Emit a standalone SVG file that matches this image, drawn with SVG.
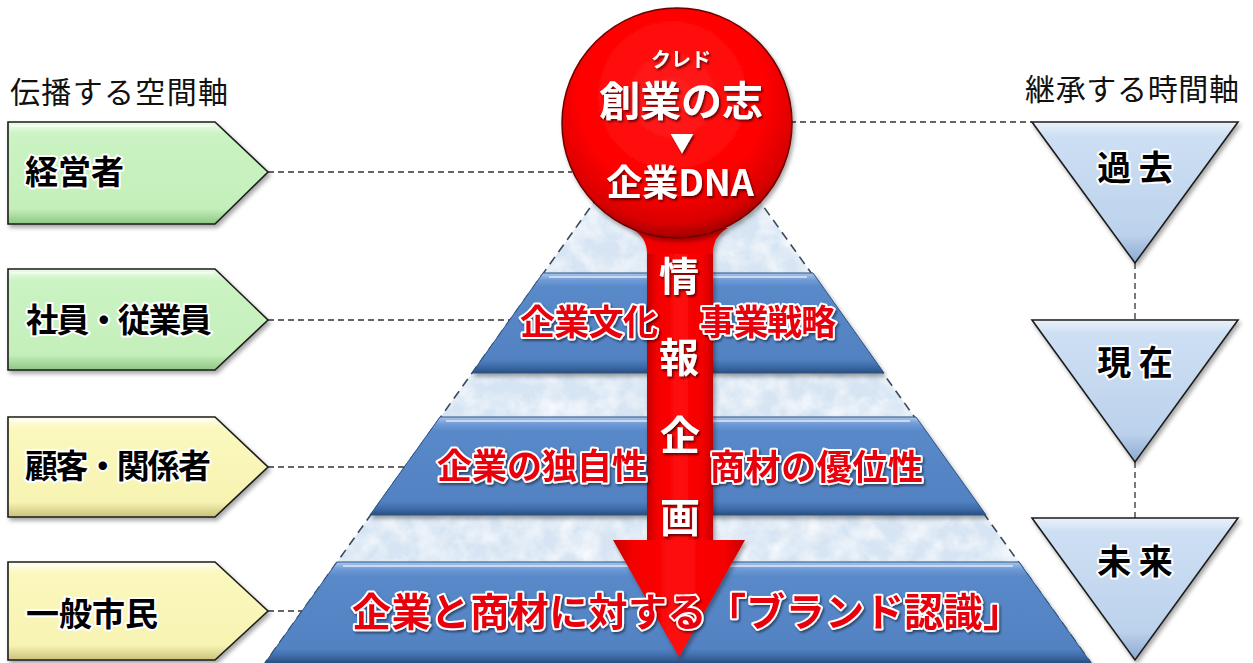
<svg xmlns="http://www.w3.org/2000/svg" width="1253" height="663" viewBox="0 0 1253 663">
<style>
.f{font-family:"Noto Sans CJK JP","Noto Sans",sans-serif;}
.t{font-size:30px;fill:#111;}
.node{font-weight:700;font-size:33px;fill:#000;stroke:#fff;stroke-width:4;paint-order:stroke;stroke-linejoin:round;}
.tri{font-weight:700;font-size:34px;fill:#000;stroke:#fff;stroke-width:4;paint-order:stroke;stroke-linejoin:round;text-anchor:middle;}
.red{font-weight:700;fill:#e8000b;stroke:#fff;stroke-width:4;paint-order:stroke;stroke-linejoin:round;filter:url(#sh);}
.wht{font-weight:700;fill:#fff;filter:url(#dk);text-anchor:middle;}
.dash{stroke:#333;stroke-width:1.3;stroke-dasharray:6 4;fill:none;}
.pyd{stroke:#3a4a5c;stroke-width:1.6;stroke-dasharray:9 6;fill:none;}
.grn{fill:url(#gG);stroke:#1d1d1d;stroke-width:1.6;filter:url(#ds);}
.yel{fill:url(#gY);stroke:#1d1d1d;stroke-width:1.6;filter:url(#ds);}
.tr{fill:url(#gT);stroke:#1d1d1d;stroke-width:1.6;filter:url(#ds);}
.lay{fill:url(#gL);stroke:#2c5585;stroke-width:1;filter:url(#ds);}
.hl{fill:none;stroke:#fff;stroke-opacity:.55;stroke-width:2;}
</style>
<defs>
<linearGradient id="gG" x1="0" y1="0" x2="0" y2="1">
<stop offset="0" stop-color="#eefcea"/><stop offset=".12" stop-color="#cbf3c3"/><stop offset=".85" stop-color="#c4efba"/><stop offset="1" stop-color="#8dc683"/>
</linearGradient>
<linearGradient id="gY" x1="0" y1="0" x2="0" y2="1">
<stop offset="0" stop-color="#fffdea"/><stop offset=".12" stop-color="#fbf8bd"/><stop offset=".85" stop-color="#f7f3b2"/><stop offset="1" stop-color="#c9c27a"/>
</linearGradient>
<linearGradient id="gT" x1="0" y1="0" x2="0" y2="1">
<stop offset="0" stop-color="#eaf1fa"/><stop offset=".1" stop-color="#cddff3"/><stop offset=".8" stop-color="#bcd2ec"/><stop offset="1" stop-color="#8aa8cf"/>
</linearGradient>
<linearGradient id="gL" x1="0" y1="0" x2="0" y2="1">
<stop offset="0" stop-color="#a8c6ec"/><stop offset=".07" stop-color="#6f9bd6"/><stop offset=".14" stop-color="#5989c9"/><stop offset=".86" stop-color="#5282c2"/><stop offset=".93" stop-color="#3f6daa"/><stop offset="1" stop-color="#2a4f80"/>
</linearGradient>
<linearGradient id="gS" x1="0" y1="0" x2="1" y2="0">
<stop offset="0" stop-color="#c40000"/><stop offset=".15" stop-color="#f40000"/><stop offset=".5" stop-color="#ff0a0a"/><stop offset=".85" stop-color="#f40000"/><stop offset="1" stop-color="#c40000"/>
</linearGradient>
<radialGradient id="gC" cx=".48" cy=".38" r=".62">
<stop offset="0" stop-color="#ff2020"/><stop offset=".65" stop-color="#ff0000"/><stop offset=".9" stop-color="#d80000"/><stop offset="1" stop-color="#a00000"/>
</radialGradient>
<filter id="tex" x="0" y="0" width="1" height="1">
<feTurbulence type="fractalNoise" baseFrequency="0.05" numOctaves="4" seed="7" result="n"/>
<feColorMatrix in="n" type="matrix" values="0 0 0 0 1  0 0 0 0 1  0 0 0 0 1  1.4 0 0 0 -0.45" result="w"/>
<feComposite in="w" in2="SourceGraphic" operator="in" result="wc"/>
<feMerge><feMergeNode in="SourceGraphic"/><feMergeNode in="wc"/></feMerge>
</filter>
<filter id="ds" x="-10%" y="-10%" width="125%" height="130%">
<feDropShadow dx="2" dy="3" stdDeviation="2" flood-color="#000" flood-opacity=".35"/>
</filter>
<filter id="sh" x="-5%" y="-20%" width="115%" height="150%">
<feDropShadow dx="1.5" dy="2" stdDeviation="1.2" flood-color="#000" flood-opacity=".45"/>
</filter>
<filter id="dk" x="-20%" y="-20%" width="150%" height="150%">
<feDropShadow dx="1.5" dy="2" stdDeviation="1" flood-color="#400" flood-opacity=".8"/>
</filter>
</defs>

<rect width="1253" height="663" fill="#fff"/>

<text class="f t" x="10" y="103" textLength="218">伝播する空間軸</text>
<text class="f t" x="1025" y="100" textLength="214">継承する時間軸</text>

<g id="pyramid">
<polygon points="677,86 1091,663 265,663" fill="#d6e4f3" filter="url(#tex)"/>
<path class="pyd" d="M677,86 L265,663 M677,86 L1091,663"/>
</g>

<g id="connectors">
<line class="dash" x1="268" y1="172" x2="572" y2="172"/>
<line class="dash" x1="268" y1="320" x2="510" y2="320"/>
<line class="dash" x1="268" y1="467" x2="404" y2="467"/>
<line class="dash" x1="268" y1="611" x2="302" y2="611"/>
<line class="dash" x1="790" y1="122" x2="1032" y2="122"/>
<line class="dash" x1="1135" y1="263" x2="1135" y2="320"/>
<line class="dash" x1="1135" y1="462" x2="1135" y2="518"/>
</g>

<g id="layer1">
<polygon class="lay" points="543,273 813,273 884,373 472,373"/>
<path class="hl" d="M549,277 L807,277"/>
</g>
<g id="layer2">
<polygon class="lay" points="440,417 916,417 986,515 370,515"/>
<path class="hl" d="M446,421 L910,421"/>
</g>
<g id="layer3">
<polygon class="lay" points="337,562 1019,562 1091,663 265,663"/>
<path class="hl" d="M343,566 L1013,566"/>
</g>

<g id="arrow" filter="url(#ds)">
<rect x="647" y="210" width="66" height="332" fill="url(#gS)"/>
<polygon points="613,540 745,540 679,657" fill="url(#gS)"/>
<path d="M630,228 Q647,236 647,254 L713,254 Q713,236 728,228 Z" fill="#f20000"/>
</g>

<g id="dna">
<circle cx="677" cy="123" r="115" fill="url(#gC)" stroke="#6a0000" stroke-width="1.5" filter="url(#ds)"/>
<text class="f wht"><tspan x="681" y="67" font-size="20">クレド</tspan><tspan x="681" y="116" font-size="41">創業の志</tspan><tspan x="682" y="152" font-size="24">▼</tspan><tspan x="680" y="196" font-size="36">企業DNA</tspan></text>
</g>

<g id="layer-text">
<text class="f red" x="520" y="335" font-size="35" textLength="138">企業文化</text>
<text class="f red" x="700" y="335" font-size="35" textLength="136">事業戦略</text>
<text class="f red" x="437" y="479" font-size="35" textLength="210">企業の独自性</text>
<text class="f red" x="710" y="480" font-size="35" textLength="213">商材の優位性</text>
<text class="f red" x="352" y="626" font-size="39" textLength="670">企業と商材に対する「ブランド認識」</text>
</g>

<g id="info-text">
<text class="f wht" x="679" y="291" font-size="40">情</text>
<text class="f wht" x="679" y="372" font-size="40">報</text>
<text class="f wht" x="680" y="450" font-size="40">企</text>
<text class="f wht" x="680" y="532" font-size="40">画</text>
</g>

<g id="n-keieisha">
<path class="grn" d="M8,122 H215 L268,172 L215,224 H8 Z"/>
<path class="hl" d="M11,126 H213"/>
<text class="f node" x="25" y="184" font-size="34">経営者</text>
</g>
<g id="n-shain">
<path class="grn" d="M8,269 H215 L268,320 L215,370 H8 Z"/>
<path class="hl" d="M11,273 H213"/>
<text class="f node" x="26" y="332" textLength="186">社員・従業員</text>
</g>
<g id="n-kokyaku">
<path class="yel" d="M8,417 H215 L268,467 L215,517 H8 Z"/>
<path class="hl" d="M11,421 H213"/>
<text class="f node" x="25" y="478" textLength="186">顧客・関係者</text>
</g>
<g id="n-ippan">
<path class="yel" d="M8,562 H215 L268,611 L215,660 H8 Z"/>
<path class="hl" d="M11,566 H213"/>
<text class="f node" x="26" y="626">一般市民</text>
</g>

<g id="t-kako">
<polygon class="tr" points="1032,122 1238,122 1135,263"/>
<text class="f tri" x="1135" y="180">過 去</text>
</g>
<g id="t-genzai">
<polygon class="tr" points="1032,320 1238,320 1135,462"/>
<text class="f tri" x="1135" y="375">現 在</text>
</g>
<g id="t-mirai">
<polygon class="tr" points="1032,518 1238,518 1135,660"/>
<text class="f tri" x="1135" y="574">未 来</text>
</g>
</svg>
